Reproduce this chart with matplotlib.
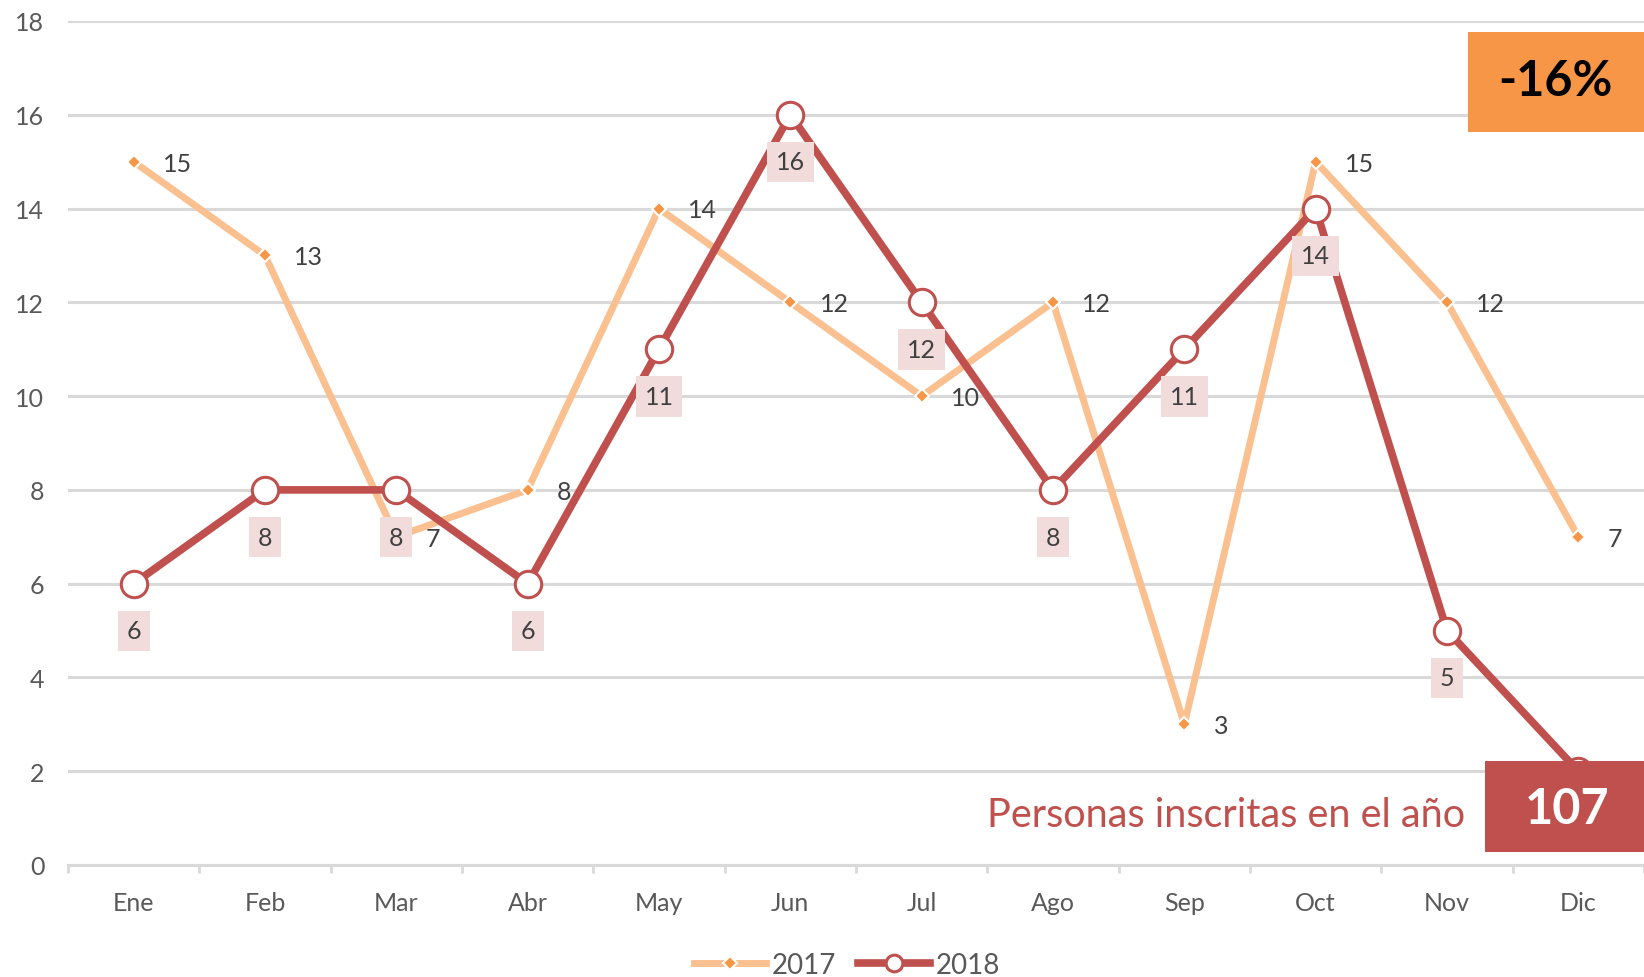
import matplotlib.pyplot as plt
from matplotlib.patches import Rectangle
from matplotlib.lines import Line2D

months = ['Ene', 'Feb', 'Mar', 'Abr', 'May', 'Jun', 'Jul', 'Ago', 'Sep', 'Oct', 'Nov', 'Dic']
inscritos_2017 = [15, 13, 7, 8, 14, 12, 10, 12, 3, 15, 12, 7]
inscritos_2018 = [6, 8, 8, 6, 11, 16, 12, 8, 11, 14, 5, 2]
y_ticks = [0, 2, 4, 6, 8, 10, 12, 14, 16, 18]

plt.rcParams['font.family'] = ['Lato', 'DejaVu Sans']

W, H = 1644, 978
fig = plt.figure(figsize=(W / 100, H / 100), dpi=100)
fig.patch.set_facecolor('white')

# axes placed in pixel terms, right side runs past the figure edge like the original
left_px, right_px, top_px, bottom_px = 68, 1644, 22, 866
ax = fig.add_axes([left_px / W, 1 - bottom_px / H, (right_px - left_px) / W, (bottom_px - top_px) / H])
step = 132.4
ax.set_xlim(-0.5, -0.5 + (right_px - left_px) / step)
ax.set_ylim(0, 18)

orange_line = '#FAC090'
orange_mark = '#F79646'
red = '#C0504D'
grey_txt = '#595959'
lab_txt = '#404040'

x = list(range(len(months)))

ax.plot(x, inscritos_2017, color=orange_line, lw=5, marker='D', ms=7,
        mfc=orange_mark, mec='white', mew=1.5, zorder=3, solid_capstyle='butt')
ax.plot(x, inscritos_2018, color=red, lw=5.5, marker='o', ms=19,
        mfc='white', mec=red, mew=2.2, zorder=4)

for xi, v in zip(x, inscritos_2017):
    ax.annotate(str(v), (xi, v), xytext=(21, -1), textcoords='offset points',
                ha='left', va='center', fontsize=18, color=lab_txt, zorder=6)

for xi, v in zip(x, inscritos_2018):
    ax.annotate(str(v), (xi, v), xytext=(0, -34), textcoords='offset points',
                ha='center', va='center', fontsize=18, color=lab_txt, zorder=5,
                bbox=dict(boxstyle='square,pad=0.35', fc='#F2DCDB', ec='none'))

# grid and axis
ax.set_yticks(y_ticks)
ax.yaxis.grid(True, color='#D9D9D9', lw=2.2, zorder=0)
ax.set_axisbelow(True)
for s in ['top', 'right', 'left']:
    ax.spines[s].set_visible(False)
ax.spines['bottom'].set_color('#D9D9D9')
ax.spines['bottom'].set_linewidth(2.2)
ax.set_xticks(x)
ax.set_xticklabels(months)
ax.set_xticks([i - 0.5 for i in range(len(months) + 1)], minor=True)
ax.tick_params(axis='x', which='major', length=0, pad=19, labelsize=18, labelcolor=grey_txt)
ax.tick_params(axis='x', which='minor', length=6, width=2, color='#D9D9D9')
ax.tick_params(axis='y', length=0, pad=17, labelsize=18, labelcolor=grey_txt)

# summary boxes
total_2017 = sum(inscritos_2017)
total_2018 = sum(inscritos_2018)
change = round((total_2018 - total_2017) / total_2017 * 100)

fig.patches.append(Rectangle((1468 / W, 1 - 133 / H), (W - 1468) / W, 100 / H,
                             transform=fig.transFigure, fc='#F79646', ec='none', zorder=10))
fig.text(1555 / W, 1 - 82 / H, f'{change}%', ha='center', va='center',
         fontsize=35, fontweight='bold', color='black', zorder=11)

fig.patches.append(Rectangle((1485 / W, 1 - 853 / H), (W - 1485) / W, 91 / H,
                             transform=fig.transFigure, fc=red, ec='none', zorder=10))
fig.text(1567 / W, 1 - 810 / H, str(total_2018), ha='center', va='center',
         fontsize=35, fontweight='bold', color='white', zorder=11)
fig.text(1465 / W, 1 - 816 / H, 'Personas inscritas en el año', ha='right', va='center',
         fontsize=28.5, color=red, zorder=11)

handles = [
    Line2D([], [], color=orange_line, lw=5, marker='D', ms=7, mfc=orange_mark, mec='white', mew=1.5),
    Line2D([], [], color=red, lw=5.5, marker='o', ms=12, mfc='white', mec=red, mew=2.2),
]
fig.legend(handles, ['2017', '2018'], loc='center', bbox_to_anchor=(847 / W, 1 - 966 / H),
           ncol=2, frameon=False, fontsize=20, labelcolor=grey_txt,
           handlelength=2.6, columnspacing=0.8, handletextpad=0.2)

fig.savefig('out.png', dpi=100, facecolor='white')
